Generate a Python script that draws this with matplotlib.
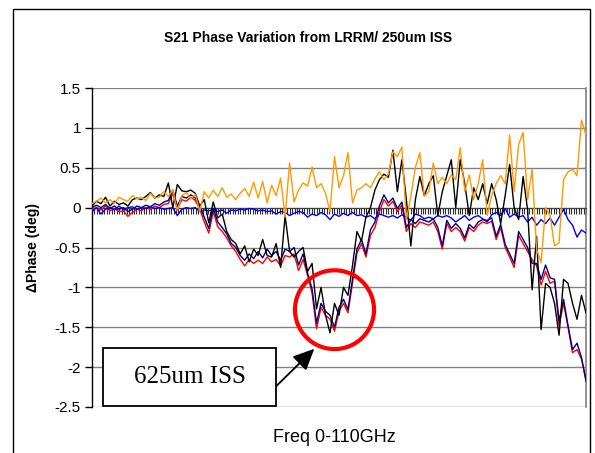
import numpy as np
import matplotlib
matplotlib.use("Agg")
import matplotlib.pyplot as plt
from matplotlib.patches import Ellipse, Rectangle

plt.rcParams['font.family'] = ['Liberation Sans', 'DejaVu Sans']

freq = np.linspace(0, 110, 111)

orange = [0.05, 0.08, 0.12, 0.06, 0.10, 0.05, 0.13, 0.10, 0.08, 0.15,
          0.11, 0.13, 0.09, 0.18, 0.12, 0.13, 0.20, 0.14, 0.22, -0.04,
          0.15, 0.19, 0.11, 0.17, -0.05, 0.20, 0.12, 0.22, 0.14, 0.25,
          0.13, 0.17, 0.10, 0.18, 0.24, 0.14, 0.32, 0.12, 0.33, 0.06,
          0.28, 0.15, 0.37, -0.12, 0.56, 0.07, 0.22, 0.31, 0.27, 0.51,
          0.25, 0.30, 0.18, -0.05, 0.64, 0.25, 0.40, 0.69, 0.06, 0.22,
          0.25, 0.30, 0.25, 0.36, 0.45, 0.35, 0.42, 0.70, 0.64, 0.76,
          -0.15, 0.14, 0.50, 0.69, 0.14, 0.20, 0.56, 0.30, 0.38, 0.30,
          0.41, 0.35, 0.75, 0.20, 0.41, 0.10, 0.30, 0.60, -0.10, 0.15,
          0.30, 0.40, 0.30, 0.91, 0.20, 0.79, 0.94, 0.10, 0.48, -0.52,
          -0.69, 0.00, -0.10, -0.48, -0.44, 0.35, 0.45, 0.48, 0.40, 1.10,
          0.91]

black = [0.02, 0.08, 0.05, 0.13, 0.02, 0.08, 0.04, 0.06, 0.02, 0.10,
         0.12, 0.10, 0.14, 0.19, 0.12, 0.16, 0.14, 0.31, 0.00, 0.29,
         0.21, 0.20, 0.22, 0.18, 0.02, 0.10, -0.19, 0.07, -0.13, -0.08,
         -0.30, -0.40, -0.45, -0.58, -0.48, -0.68, -0.52, -0.60, -0.40, -0.60,
         -0.62, -0.45, -0.75, -0.10, -0.55, -0.62, -0.55, -0.50, -0.80, -0.70,
         -1.27, -1.00, -1.35, -1.57, -1.20, -1.35, -1.00, -1.10, -0.73, -0.30,
         -0.42, -0.12, 0.00, 0.22, 0.35, 0.42, 0.38, 0.72, 0.20, 0.60,
         0.10, -0.48, 0.10, 0.39, 0.15, 0.30, 0.40, -0.10, 0.20, 0.40,
         0.60, 0.00, 0.60, 0.30, -0.10, 0.25, 0.10, 0.30, 0.05, 0.30,
         0.10, -0.20, 0.15, 0.54, 0.00, -0.15, 0.39, -0.03, -1.03, -0.36,
         -1.53, -0.95, -1.00, -1.20, -1.60, -0.90, -0.95, -1.20, -1.40, -1.10,
         -1.32]

red = [-0.02, 0.00, -0.03, 0.02, -0.04, -0.01, -0.05, -0.04, -0.11, -0.06,
       -0.02, -0.04, 0.00, -0.02, 0.02, 0.00, 0.04, 0.05, 0.18, -0.02,
       0.10, 0.08, 0.13, 0.09, -0.02, -0.18, -0.32, -0.05, -0.24, -0.30,
       -0.38, -0.48, -0.55, -0.65, -0.73, -0.65, -0.70, -0.66, -0.70, -0.62,
       -0.68, -0.65, -0.73, -0.60, -0.62, -0.58, -0.79, -0.65, -0.85, -1.07,
       -1.52, -1.25, -1.35, -1.40, -1.55, -1.30, -1.20, -1.32, -0.95, -0.57,
       -0.45, -0.62, -0.35, -0.25, -0.05, 0.10, 0.02, 0.08, -0.05, 0.03,
       -0.30, -0.20, -0.25, -0.18, -0.20, -0.22, -0.18, -0.30, -0.52, -0.20,
       -0.30, -0.25, -0.30, -0.42, -0.25, -0.30, -0.22, -0.18, -0.20, -0.17,
       -0.40, -0.25, -0.50, -0.62, -0.75, -0.35, -0.45, -0.55, -0.65, -0.73,
       -0.97, -0.80, -0.95, -0.92, -1.48, -1.20, -1.50, -1.82, -1.78, -1.90,
       -2.15]

navy = [0.00, 0.03, 0.00, 0.04, -0.01, 0.02, -0.02, 0.00, -0.05, -0.02,
        0.02, 0.00, 0.03, 0.01, 0.05, 0.03, 0.07, 0.09, 0.22, 0.02,
        0.14, 0.12, 0.16, 0.12, 0.01, -0.12, -0.26, -0.01, -0.18, -0.25,
        -0.33, -0.45, -0.50, -0.60, -0.66, -0.58, -0.64, -0.55, -0.63, -0.52,
        -0.60, -0.55, -0.66, -0.52, -0.55, -0.50, -0.72, -0.58, -0.82, -1.02,
        -1.45, -1.20, -1.30, -1.35, -1.50, -1.25, -1.15, -1.28, -0.90, -0.52,
        -0.40, -0.58, -0.28, -0.18, 0.02, 0.16, 0.06, 0.12, -0.01, 0.07,
        -0.25, -0.15, -0.20, -0.14, -0.16, -0.18, -0.14, -0.25, -0.48, -0.16,
        -0.26, -0.20, -0.26, -0.38, -0.21, -0.26, -0.18, -0.15, -0.16, -0.13,
        -0.36, -0.21, -0.46, -0.58, -0.70, -0.30, -0.40, -0.50, -0.70, -0.70,
        -0.90, -0.72, -0.88, -0.90, -1.42, -1.15, -1.48, -1.78, -1.70, -1.88,
        -2.18]

blue = [-0.05, 0.00, -0.08, -0.02, 0.00, -0.03, 0.02, -0.02, 0.00, 0.01,
        -0.02, 0.00, -0.01, 0.01, -0.01, 0.00, -0.02, -0.01, 0.00, -0.10,
        -0.02, 0.00, -0.01, 0.00, -0.05, -0.03, -0.04, -0.02, -0.05, -0.03,
        -0.07, -0.03, -0.04, -0.02, -0.03, -0.01, -0.02, -0.04, -0.03, -0.05,
        -0.04, -0.08, -0.05, -0.06, -0.10, -0.07, -0.05, -0.06, -0.12, -0.08,
        -0.10, -0.06, -0.09, -0.15, -0.08, -0.11, -0.07, -0.10, -0.06, -0.10,
        -0.09, -0.12, -0.10, -0.14, -0.08, -0.10, -0.12, -0.10, -0.13, -0.09,
        -0.12, -0.16, -0.08, -0.10, -0.14, -0.12, -0.14, -0.10, -0.12, -0.10,
        -0.13, -0.18, -0.14, -0.10, -0.16, -0.12, -0.10, -0.14, -0.18, -0.09,
        -0.06, -0.10, -0.01, -0.12, -0.08, -0.12, -0.10, -0.18, -0.12, -0.22,
        -0.15, -0.20, -0.13, -0.22, -0.12, -0.02, -0.15, -0.22, -0.37, -0.28,
        -0.32]

yticks = [-2.5, -2, -1.5, -1, -0.5, 0, 0.5, 1, 1.5]
ytick_labels = ['-2.5', '-2', '-1.5', '-1', '-0.5', '0', '0.5', '1', '1.5']

W, H = 595, 453
fig = plt.figure(figsize=(W / 100, H / 100), dpi=100)
ax = fig.add_axes([92 / W, 1 - 407 / H, (586 - 92) / W, (407 - 88) / H])

for v in yticks:
    ax.axhline(v, color='#808080', lw=1.0, zorder=1)

lw = 1.0
ax.plot(freq, red, color='#FF0000', lw=lw, zorder=3)
ax.plot(freq, navy, color='#000080', lw=lw, zorder=4)
ax.plot(freq, blue, color='#0000FF', lw=lw, zorder=5)
ax.plot(freq, black, color='#000000', lw=lw, zorder=6)
ax.plot(freq, orange, color='#FF9900', lw=lw, zorder=7)

ax.set_xlim(0, 110)
ax.set_ylim(-2.5, 1.5)
ax.set_yticks(yticks)
ax.set_yticklabels(ytick_labels, fontsize=11)
ax.tick_params(axis='y', direction='out', length=5, width=1, color='black', pad=3)

ax.spines['bottom'].set_position(('data', 0))
ax.spines['bottom'].set_color('#404040')
ax.set_xticks(np.linspace(0, 110, 201))
ax.set_xticklabels([])
ax.tick_params(axis='x', direction='out', length=4, width=0.8, color='#303030')
ax.spines['top'].set_visible(False)
ax.spines['right'].set_color('#808080')
ax.spines['right'].set_linewidth(1.2)
ax.spines['left'].set_color('black')
ax.spines['left'].set_linewidth(1.0)

# red circle highlighting dip
ax.add_patch(Ellipse((54.0, -1.28), 2 * 8.8, 2 * 0.494, fill=False,
                     edgecolor='#FF0000', lw=3.0, zorder=9, clip_on=False))

# annotation box
ax.add_patch(Rectangle((2.45, -2.49), 38.5, 0.73, facecolor='white',
                       edgecolor='black', lw=1.3, zorder=10, clip_on=False))
ax.text(21.7, -2.125, '625um ISS', fontsize=18, family='Liberation Serif',
        ha='center', va='center', zorder=11)
ax.annotate('', xy=(49.5, -1.77), xytext=(41.0, -2.24),
            arrowprops=dict(arrowstyle='-|>,head_length=1.3,head_width=0.6',
                            color='black', lw=1.3, shrinkA=0, shrinkB=0),
            zorder=11)

fig.text(308 / W, 1 - 38 / H, 'S21 Phase Variation from LRRM/ 250um ISS',
         fontsize=10, fontweight='bold', ha='center', va='center')
fig.text(33 / W, 1 - 248 / H, 'ΔPhase (deg)', fontsize=10, fontweight='bold',
         rotation=90, ha='center', va='center')
fig.text(334 / W, 1 - 437 / H, 'Freq 0-110GHz', fontsize=13,
         ha='center', va='center')

# outer chart border
fig.patches.append(Rectangle((13 / W, -0.05), (590 - 13) / W, 1.05 - 9 / H,
                             transform=fig.transFigure, fill=False,
                             edgecolor='black', lw=1.0))

fig.savefig('out.png', dpi=100)
